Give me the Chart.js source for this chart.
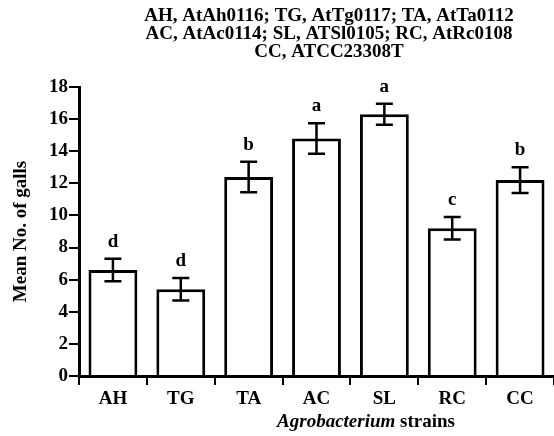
<!DOCTYPE html>
<html>
<head>
<meta charset="utf-8">
<script src="https://cdn.jsdelivr.net/npm/chart.js@4"></script>
<style>
  html, body { margin: 0; padding: 0; background: #fff; overflow: hidden; }
  #wrap { width: 554px; height: 436px; }
</style>
</head>
<body>
<div id="wrap"><canvas id="gallsChart" width="554" height="436"></canvas></div>
<script>
const strains = ['AH', 'TG', 'TA', 'AC', 'SL', 'RC', 'CC'];
const meanGalls = [6.6, 5.4, 12.4, 14.8, 16.3, 9.2, 12.2];
const errGalls = [0.7, 0.7, 0.95, 0.95, 0.65, 0.7, 0.8];
const groupLetters = ['d', 'd', 'b', 'a', 'a', 'c', 'b'];
const titleLines = [
  'AH, AtAh0116; TG, AtTg0117; TA, AtTa0112',
  'AC, AtAc0114; SL, ATSl0105; RC, AtRc0108',
  'CC, ATCC23308T'
];

const FONT = '"Liberation Serif", "Times New Roman", serif';

// error bars + significance letters
const errorBars = {
  id: 'errorBars',
  afterDatasetsDraw(chart) {
    const { ctx, scales: { y } } = chart;
    const meta = chart.getDatasetMeta(0);
    ctx.save();
    ctx.strokeStyle = '#000';
    ctx.lineWidth = 2.5;
    ctx.fillStyle = '#000';
    ctx.font = 'bold 19px ' + FONT;
    ctx.textAlign = 'center';
    ctx.textBaseline = 'alphabetic';
    meta.data.forEach((bar, i) => {
      const x = bar.x;
      const top = y.getPixelForValue(meanGalls[i] + errGalls[i]);
      const bot = y.getPixelForValue(meanGalls[i] - errGalls[i]);
      const cap = 8.5;
      ctx.beginPath();
      ctx.moveTo(x, top); ctx.lineTo(x, bot);
      ctx.moveTo(x - cap, top); ctx.lineTo(x + cap, top);
      ctx.moveTo(x - cap, bot); ctx.lineTo(x + cap, bot);
      ctx.stroke();
      ctx.fillText(groupLetters[i], x, top - 12);
    });
    ctx.restore();
  }
};

// header lines and the mixed-style x title
const extraText = {
  id: 'extraText',
  afterDraw(chart) {
    const ctx = chart.ctx;
    ctx.save();
    ctx.fillStyle = '#000';
    ctx.font = 'bold 19px ' + FONT;
    ctx.textAlign = 'center';
    ctx.textBaseline = 'alphabetic';
    titleLines.forEach((t, i) => ctx.fillText(t, 329, 21 + i * 18));

    const a = 'Agrobacterium', b = ' strains';
    ctx.textAlign = 'left';
    ctx.font = 'italic bold 19px ' + FONT;
    const wa = ctx.measureText(a).width;
    ctx.font = 'bold 19px ' + FONT;
    const wb = ctx.measureText(b).width;
    let x0 = 366 - (wa + wb) / 2;
    ctx.font = 'italic bold 19px ' + FONT;
    ctx.fillText(a, x0, 427);
    ctx.font = 'bold 19px ' + FONT;
    ctx.fillText(b, x0 + wa, 427);
    ctx.restore();
  }
};

new Chart(document.getElementById('gallsChart'), {
  type: 'bar',
  data: {
    labels: strains,
    datasets: [{
      data: meanGalls,
      backgroundColor: '#fff',
      borderColor: '#000',
      borderWidth: 3,
      barPercentage: 0.72,
      categoryPercentage: 1
    }]
  },
  options: {
    responsive: false,
    animation: false,
    events: [],
    layout: { padding: { top: 87, right: 0, left: 0, bottom: 0 } },
    plugins: { legend: { display: false }, tooltip: { enabled: false }, title: { display: false } },
    scales: {
      x: {
        afterFit: s => { s.height = 60; },
        grid: { drawOnChartArea: false, offset: true, color: '#000', lineWidth: 2, tickLength: 9 },
        border: { color: '#000', width: 3 },
        ticks: { color: '#000', padding: 3, font: { family: FONT, size: 19, weight: 'bold' } }
      },
      y: {
        min: 0,
        max: 18,
        afterFit: s => { s.width = 79; },
        grid: { drawOnChartArea: false, color: '#000', lineWidth: 2, tickLength: 10 },
        border: { color: '#000', width: 3 },
        ticks: { stepSize: 2, color: '#000', padding: 1, font: { family: FONT, size: 19, weight: 'bold' } },
        title: {
          display: true,
          text: 'Mean No. of galls',
          color: '#000',
          padding: { top: 10, bottom: 0 },
          font: { family: FONT, size: 19, weight: 'bold' }
        }
      }
    }
  },
  plugins: [errorBars, extraText]
});
</script>
</body>
</html>
